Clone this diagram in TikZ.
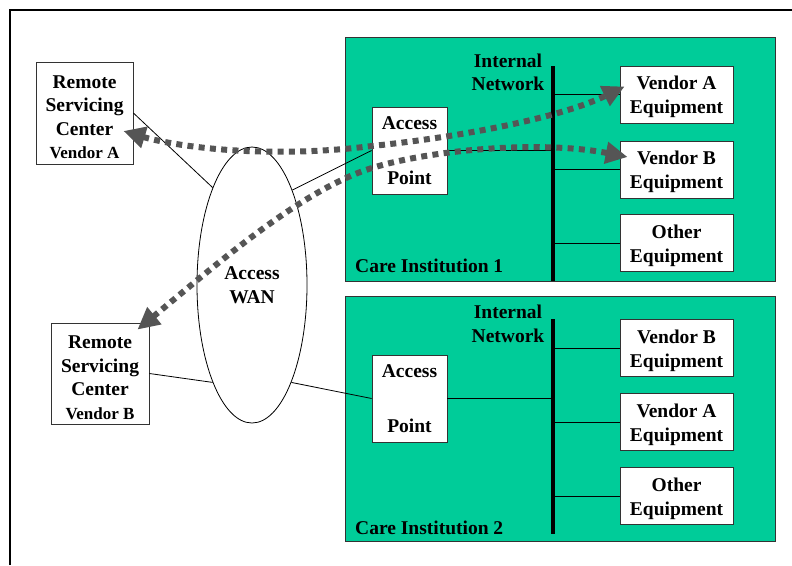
\documentclass[tikz,border=0pt]{standalone}
\usepackage{fontspec}
\setmainfont{Liberation Serif}
\usetikzlibrary{arrows.meta,shapes.geometric,calc}
\definecolor{caregreen}{HTML}{00CC99}
\definecolor{linkgray}{HTML}{555555}

\begin{document}
\begin{tikzpicture}[x=1pt,y=-1pt,
  txt/.style={font=\bfseries\fontsize{19.5}{23.5}\selectfont, align=center, inner sep=0pt},
  eqtxt/.style={txt, font=\bfseries\fontsize{19.5}{24}\selectfont},
  box/.style={draw=black!80, line width=0.8pt, fill=white, inner sep=0pt},
  equip/.style={box, minimum width=113pt, minimum height=57pt},
  apbox/.style={box, txt, minimum width=75pt, minimum height=87pt},
  site/.style={draw=black!80, line width=0.8pt, fill=caregreen, anchor=north west, inner sep=0pt},
  wire/.style={line width=0.8pt},
  bus/.style={line width=3.5pt},
  link/.style={draw=linkgray, line width=6pt, dash pattern=on 6pt off 5.3pt,
    {Triangle[length=22pt,width=21pt]}-{Triangle[length=22pt,width=21pt]}}
]
\useasboundingbox (0,0) rectangle (792,565);

% outer frame
\draw[line width=2pt] (10,565) -- (10,10) -- (792,10);

% care institutions
\node[site, minimum width=430pt, minimum height=244pt] (site1) at (345,37) {};
\node[site, minimum width=430pt, minimum height=245pt] (site2) at (345,296) {};
\node[txt, anchor=west] (site1lbl) at (355,266) {Care Institution 1};
\node[txt, anchor=west] (site2lbl) at (355,528) {Care Institution 2};

% internal network buses
\coordinate (b1top) at (553,66);
\coordinate (b1bot) at (553,281);
\coordinate (b2top) at (553,319);
\coordinate (b2bot) at (553,534);
\draw[bus] (b1top) -- (b1bot);
\draw[bus] (b2top) -- (b2bot);
\node[txt] (net1) at (508,72.5) {Internal\\Network};
\node[txt] (net2) at (508,324) {Internal\\Network};

% access points
\node[apbox] (ap1) at (409.5,150.5) {Access\\[31pt]Point};
\node[apbox] (ap2) at (409.5,398.5) {Access\\[31pt]Point};

% equipment
\node[equip] (eq1a) at (676.5,94.5) {};
\node[equip] (eq1b) at (676.5,169.5) {};
\node[equip] (eq1o) at (676.5,243) {};
\node[equip] (eq2b) at (676.5,348) {};
\node[equip] (eq2a) at (676.5,422) {};
\node[equip] (eq2o) at (676.5,496) {};
\node[eqtxt] (eq1at) at (676.5,97) {Vendor A\\Equipment};
\node[eqtxt] (eq1bt) at (676.5,172) {Vendor B\\Equipment};
\node[eqtxt] (eq1ot) at (676.5,245.5) {Other\\Equipment};
\node[eqtxt] (eq2bt) at (676.5,350.5) {Vendor B\\Equipment};
\node[eqtxt] (eq2at) at (676.5,424.5) {Vendor A\\Equipment};
\node[eqtxt] (eq2ot) at (676.5,498.5) {Other\\Equipment};

% branches off the buses
\foreach \n in {eq1a,eq1b,eq1o}
  \draw[wire] (\n.west) -- (\n.west -| b1top);
\foreach \n in {eq2b,eq2a,eq2o}
  \draw[wire] (\n.west) -- (\n.west -| b2top);
\draw[wire] (ap1.east) -- (ap1.east -| b1top);
\draw[wire] (ap2.east) -- (ap2.east -| b2top);

% remote servicing centers
\node[box, minimum width=97pt, minimum height=102pt] (remA) at (84.5,113) {};
\node[box, minimum width=98pt, minimum height=101pt] (remB) at (100,373.5) {};
\node[txt] (remAt) at (84.5,117)
  {Remote\\Servicing\\Center\\{\bfseries\fontsize{17}{20}\selectfont Vendor A}};
\node[txt] (remBt) at (100,377.5)
  {Remote\\Servicing\\Center\\{\bfseries\fontsize{17}{20}\selectfont Vendor B}};

% access WAN
\node[ellipse, draw=black, line width=0.8pt, fill=white, txt,
  minimum width=110pt, minimum height=276pt] (wan) at (252,285) {Access\\WAN};

\draw[wire] (remA.east) -- (wan.112);
\draw[wire] (wan.67) -- (ap1.west);
\draw[wire] (remB.east) -- (wan.248);
\draw[wire] (wan.292) -- (ap2.west);

% remote service sessions
\coordinate (tipRA) at ([xshift=-10pt,yshift=-18pt]remA.east);
\coordinate (tipEA) at ([xshift=5pt,yshift=8pt]eq1a.west);
\coordinate (tipRB) at ([xshift=-12pt,yshift=-7pt]remB.north east);
\coordinate (tipEB) at ([xshift=8pt,yshift=12.5pt]eq1b.west);

\draw[link] (tipRA) .. controls (170,145) and (260,160) .. (372,146)
  .. controls (460,137) and (560,118) .. (tipEA);
\draw[link] (tipRB) .. controls (210,270) and (300,190) .. (372,168)
  .. controls (430,150) and (540,140) .. (tipEB);
\end{tikzpicture}
\end{document}
